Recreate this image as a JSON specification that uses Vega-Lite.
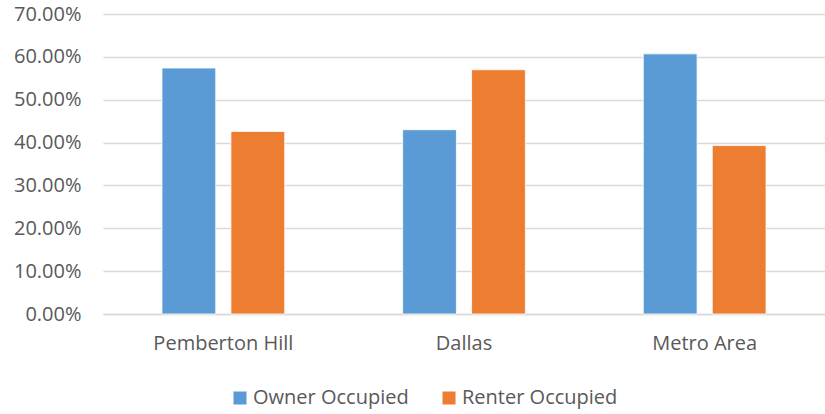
{
  "$schema": "https://vega.github.io/schema/vega-lite/v6.json",
  "autosize": {"type": "none"},
  "padding": {"left": 103, "top": 14, "right": 0, "bottom": 100},
  "width": 722,
  "height": 300,
  "background": "white",
  "config": {
    "font": "Open Sans",
    "view": {"stroke": null}
  },
  "data": {
    "values": [
      {"area": "Pemberton Hill", "type": "Owner Occupied", "share": 0.574},
      {"area": "Pemberton Hill", "type": "Renter Occupied", "share": 0.426},
      {"area": "Dallas", "type": "Owner Occupied", "share": 0.430},
      {"area": "Dallas", "type": "Renter Occupied", "share": 0.570},
      {"area": "Metro Area", "type": "Owner Occupied", "share": 0.607},
      {"area": "Metro Area", "type": "Renter Occupied", "share": 0.393}
    ]
  },
  "mark": {"type": "bar", "stroke": "white", "strokeWidth": 0.8},
  "encoding": {
    "x": {
      "field": "area",
      "type": "nominal",
      "sort": ["Pemberton Hill", "Dallas", "Metro Area"],
      "scale": {"paddingInner": 0.49, "paddingOuter": 0.245},
      "axis": {
        "title": null,
        "labelAngle": 0,
        "labelFontSize": 20,
        "labelColor": "#595959",
        "labelPadding": 19,
        "ticks": false,
        "domainColor": "#d9d9d9",
        "domainWidth": 1.5
      }
    },
    "xOffset": {
      "field": "type",
      "type": "nominal",
      "scale": {"paddingInner": 0.22, "paddingOuter": 0}
    },
    "y": {
      "field": "share",
      "type": "quantitative",
      "scale": {"domain": [0, 0.7], "nice": false},
      "axis": {
        "title": null,
        "format": ".2%",
        "values": [0, 0.1, 0.2, 0.3, 0.4, 0.5, 0.6, 0.7],
        "labelFontSize": 20,
        "labelColor": "#595959",
        "labelPadding": 22,
        "ticks": false,
        "domain": false,
        "gridColor": "#d9d9d9",
        "gridWidth": 1.5
      }
    },
    "color": {
      "field": "type",
      "type": "nominal",
      "scale": {"domain": ["Owner Occupied", "Renter Occupied"], "range": ["#5B9BD5", "#ED7D31"]},
      "legend": {
        "title": null,
        "orient": "none",
        "legendX": 127,
        "legendY": 374,
        "direction": "horizontal",
        "symbolType": "square",
        "symbolSize": 169,
        "symbolStrokeWidth": 0,
        "symbolOffset": 0,
        "labelFontSize": 20,
        "labelColor": "#595959",
        "labelOffset": 3,
        "columnPadding": 30
      }
    }
  }
}
